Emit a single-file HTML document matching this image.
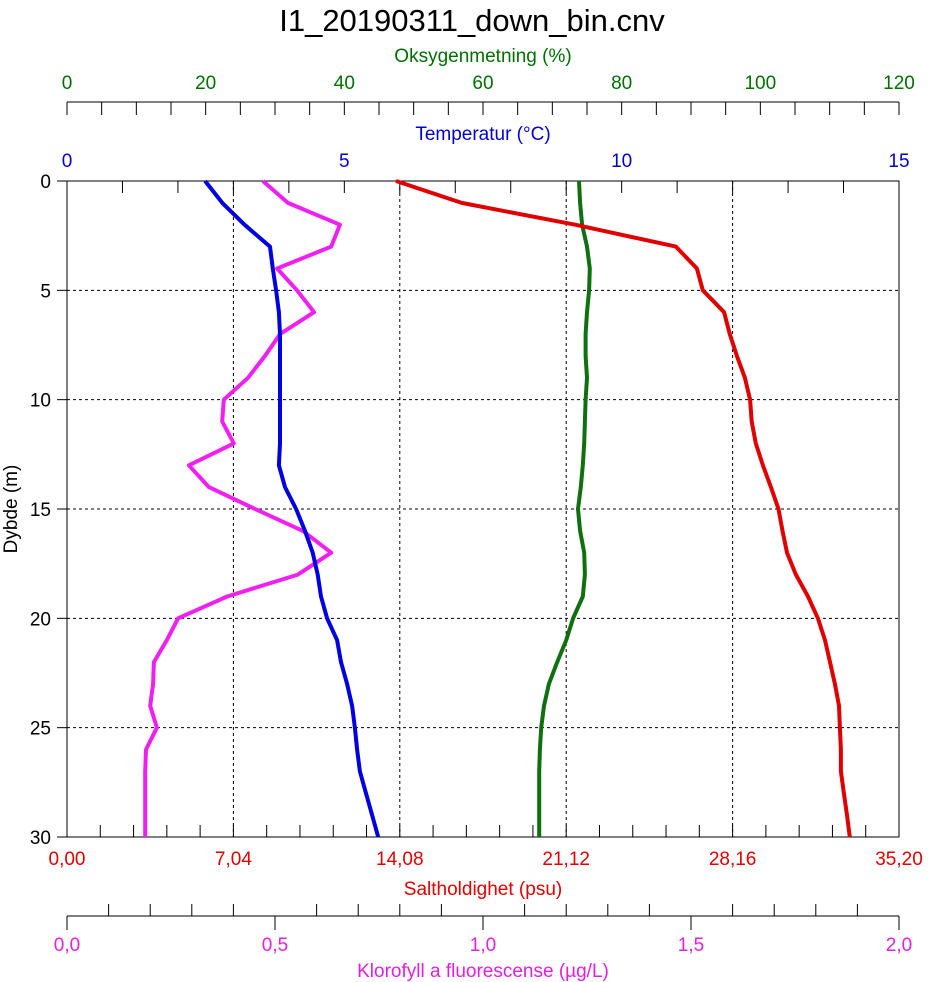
<!DOCTYPE html>
<html><head><meta charset="utf-8"><style>
body{margin:0;background:#fff}
svg{display:block;font-family:"Liberation Sans",sans-serif}
</style></head><body>
<svg id="c" width="944" height="982"></svg>
<script>
const depths=[0,1,2,3,4,5,6,7,8,9,10,11,12,13,14,15,16,17,18,19,20,21,22,23,24,25,26,27,28,29,30];
const temperature=[2.49,2.8,3.2,3.66,3.71,3.77,3.82,3.84,3.84,3.84,3.84,3.84,3.84,3.82,3.93,4.13,4.29,4.43,4.52,4.58,4.69,4.87,4.94,5.05,5.14,5.19,5.23,5.28,5.39,5.5,5.61];
const salinity=[13.92,16.7,21.5,25.76,26.65,26.9,27.8,28.04,28.34,28.68,28.9,28.97,29.14,29.44,29.78,30.1,30.27,30.46,30.84,31.35,31.77,32.07,32.28,32.49,32.66,32.7,32.74,32.74,32.87,33.0,33.12];
const oxygen=[73.85,74.0,74.3,75.0,75.4,75.3,75.0,74.8,74.8,75.0,74.8,74.7,74.6,74.4,74.1,73.7,74.0,74.6,74.7,74.4,73.0,72.0,70.7,69.5,68.8,68.4,68.2,68.1,68.1,68.1,68.1];
const chlorophyll=[0.471,0.531,0.656,0.635,0.505,0.553,0.594,0.512,0.476,0.435,0.377,0.373,0.401,0.293,0.341,0.452,0.567,0.635,0.555,0.385,0.267,0.24,0.209,0.207,0.2,0.216,0.19,0.188,0.188,0.188,0.188];
const depthTicks=[0,5,10,15,20,25,30];
const oxyTicks=["0","20","40","60","80","100","120"];
const tempTicks=["0","5","10","15"];
const salTicks=["0,00","7,04","14,08","21,12","28,16","35,20"];
const chlTicks=["0,0","0,5","1,0","1,5","2,0"];

const L=67,R=899,T=181,B=837,W=R-L;
const NS="http://www.w3.org/2000/svg";
const svg=document.getElementById('c');
function el(t,a,name){const e=document.createElementNS(NS,t);for(const k in a)e.setAttribute(k,a[k]);


svg.appendChild(e);return e;}
function txt(x,y,s,fill,size,anchor,name){const e=el('text',{x:x,y:y,fill:fill,'font-size':size,'text-anchor':anchor||'middle'},name);e.textContent=s;return e;}
const yD=d=>T+d/30*(B-T);
const xT=v=>L+v/15*W, xS=v=>L+v/35.2*W, xO=v=>L+v/120*W, xC=v=>L+v/2*W;

txt(472,31,"I1_20190311_down_bin.cnv","#000",31,'middle','chart-title');
for(let i=1;i<5;i++){const x=xS(7.04*i);el('line',{x1:x,y1:T,x2:x,y2:B,stroke:'#000','stroke-dasharray':'3,3','stroke-width':1},'grid-vertical');}
depthTicks.forEach(d=>{if(d>0&&d<30)el('line',{x1:L,y1:yD(d),x2:R,y2:yD(d),stroke:'#000','stroke-dasharray':'3,3','stroke-width':1},'grid-horizontal');});
el('rect',{x:L,y:T,width:W,height:B-T,fill:'none',stroke:'#000','stroke-width':1},'plot-frame');
depthTicks.forEach(d=>{el('line',{x1:57,y1:yD(d),x2:L,y2:yD(d),stroke:'#000'},'depth-tick');txt(51,yD(d)+7,String(d),'#000',19,'end','depth-tick-label');});
const yl=txt(17,509,"Dybde (m)","#000",19,'middle','y-axis-title');yl.setAttribute('transform','rotate(-90 17 509)');
el('line',{x1:L,y1:102,x2:R,y2:102,stroke:'#000'},'oxygen-axis-line');
for(let v=0;v<=120;v+=5)el('line',{x1:xO(v),y1:102,x2:xO(v),y2:115,stroke:'#000'},'oxygen-tick');
oxyTicks.forEach(s=>txt(xO(+s),89,s,'#007000',19,'middle','oxygen-tick-label'));
txt(483,62,"Oksygenmetning (%)",'#007000',19,'middle','oxygen-axis-title');
for(let v=0;v<=15;v++)el('line',{x1:xT(v),y1:T,x2:xT(v),y2:T+12,stroke:'#000'},'temperature-tick');
tempTicks.forEach(s=>txt(xT(+s),167,s,'#0000d0',19,'middle','temperature-tick-label'));
txt(483,140,"Temperatur (°C)",'#0000d0',19,'middle','temperature-axis-title');
for(let i=0;i<=25;i++)el('line',{x1:xS(1.408*i),y1:B,x2:xS(1.408*i),y2:B-12,stroke:'#000'},'salinity-tick');
salTicks.forEach((s,i)=>txt(xS(7.04*i),865,s,'#e00000',19,'middle','salinity-tick-label'));
txt(483,895,"Saltholdighet (psu)",'#e00000',19,'middle','salinity-axis-title');
el('line',{x1:L,y1:916,x2:R,y2:916,stroke:'#000'},'chlorophyll-axis-line');
for(let i=0;i<=20;i++)el('line',{x1:xC(i*0.1),y1:916,x2:xC(i*0.1),y2:i%5==0?930:904,stroke:'#000'},'chlorophyll-tick');
chlTicks.forEach(s=>txt(xC(parseFloat(s.replace(',','.'))),951,s,'#e020e0',19,'middle','chlorophyll-tick-label'));
txt(483,977,"Klorofyll a fluorescense (µg/L)",'#e020e0',19,'middle','chlorophyll-axis-title');
function line(vals,fx,color,name){el('polyline',{points:vals.map((v,i)=>fx(v).toFixed(1)+','+yD(depths[i]).toFixed(1)).join(' '),fill:'none',stroke:color,'stroke-width':4,'stroke-linejoin':'round'},name);}
line(chlorophyll,xC,'#f020f0','chlorophyll-line');
line(temperature,xT,'#0000e0','temperature-line');
line(oxygen,xO,'#107010','oxygen-line');
line(salinity,xS,'#e00000','salinity-line');
</script>
</body></html>
